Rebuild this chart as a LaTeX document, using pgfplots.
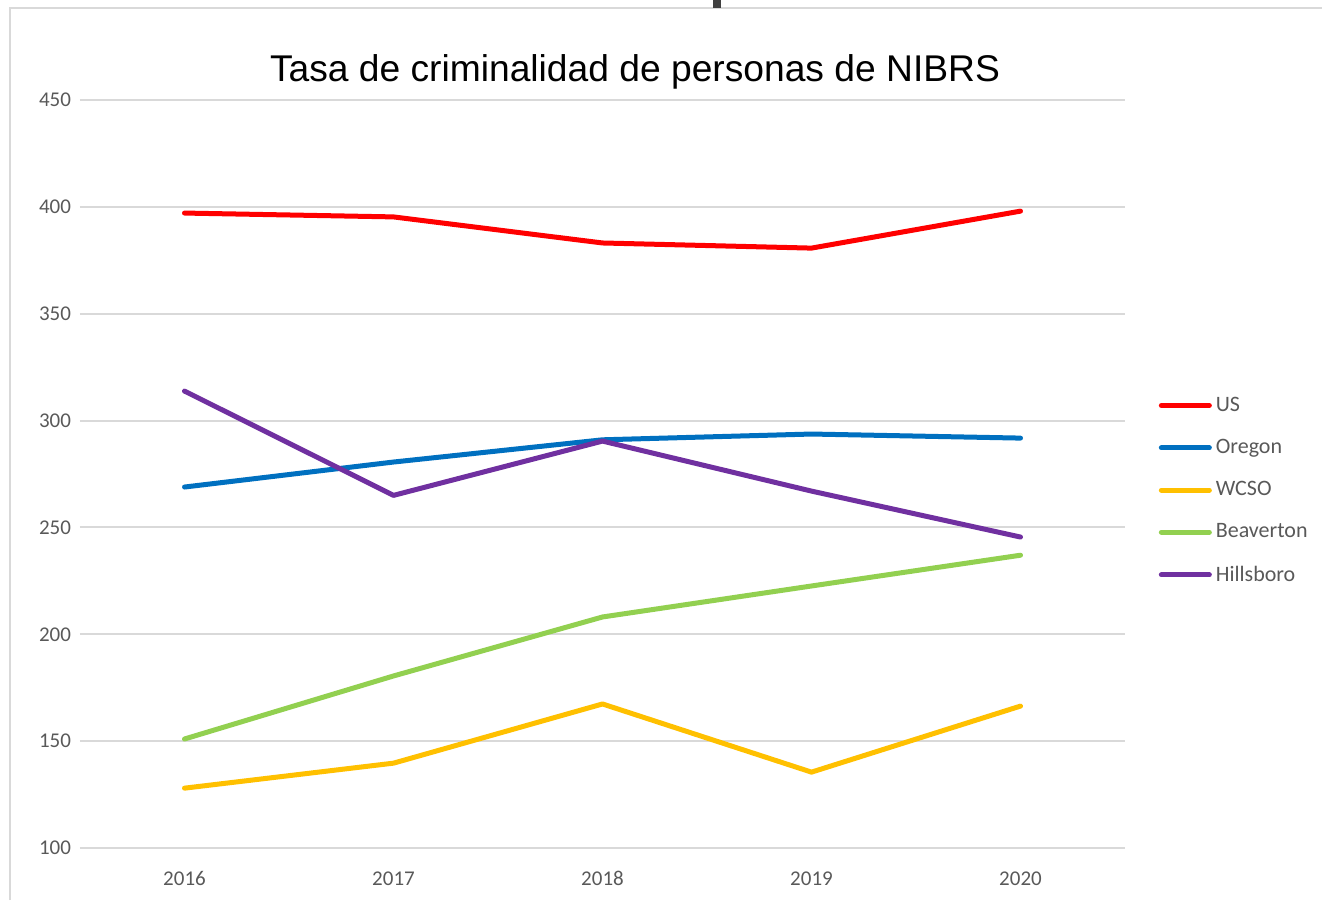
\documentclass[border=0pt]{standalone}
\usepackage{pgfplots}
\pgfplotsset{compat=1.18}
\usepackage{fontspec}
\setmainfont{Carlito}
\newfontfamily\arialf{Liberation Sans}
\definecolor{usred}{HTML}{FF0000}
\definecolor{orblue}{HTML}{0070C0}
\definecolor{wcso}{HTML}{FFC000}
\definecolor{beav}{HTML}{92D050}
\definecolor{hill}{HTML}{7030A0}
\definecolor{gridc}{HTML}{D9D9D9}
\definecolor{txtc}{HTML}{595959}
\begin{document}
\begin{tikzpicture}[x=1pt,y=1pt]
\useasboundingbox (0,0) rectangle (661,450);
\draw[gridc,line width=1pt] (5,0) -- (5,446) -- (661,446);
\fill[black!75] (356.5,446) rectangle (360.5,450);
\begin{axis}[
  at={(40pt,26pt)}, anchor=south west,
  scale only axis, width=522.5pt, height=374pt,
  xmin=2015.5, xmax=2020.5, ymin=100, ymax=450,
  xtick={2016,2017,2018,2019,2020},
  xticklabels={2016,2017,2018,2019,2020},
  ytick={100,150,...,450},
  axis line style={draw=none},
  major tick length=0pt,
  ymajorgrids, grid style={gridc,line width=1pt},
  tick label style={font=\fontsize{10.5}{12}\selectfont, text=txtc},
  /pgf/number format/assume math mode=true,
  /pgf/number format/1000 sep={},
  xticklabel style={anchor=base, yshift=-18.5pt},
  yticklabel style={xshift=-1pt},
  legend style={draw=none, fill=none, at={(1.032,0.609)}, anchor=north west,
    font=\fontsize{11}{13}\selectfont, text=txtc, row sep=8.5pt,
    inner sep=0pt},
  legend cell align=left,
  legend image code/.code={\draw[#1,line width=2.5pt,line cap=round] (0pt,0pt) -- (24pt,0pt);},
  every axis plot/.append style={line width=2.5pt, line cap=round, line join=round},
]
\addplot[usred] coordinates {(2016,397.1) (2017,395.3) (2018,383.1) (2019,380.7) (2020,398.0)};
\addlegendentry{US}
\addplot[orblue] coordinates {(2016,268.9) (2017,280.6) (2018,291.0) (2019,293.7) (2020,291.8)};
\addlegendentry{Oregon}
\addplot[wcso] coordinates {(2016,128.0) (2017,139.7) (2018,167.4) (2019,135.5) (2020,166.4)};
\addlegendentry{WCSO}
\addplot[beav] coordinates {(2016,151.0) (2017,180.5) (2018,208.1) (2019,222.6) (2020,237.0)};
\addlegendentry{Beaverton}
\addplot[hill] coordinates {(2016,313.8) (2017,265.0) (2018,290.4) (2019,267.0) (2020,245.5)};
\addlegendentry{Hillsboro}
\end{axis}
\node[font=\arialf\fontsize{18.6}{22}\selectfont, anchor=base] at (317.5,409) {Tasa de criminalidad de personas de NIBRS};
\end{tikzpicture}
\end{document}
